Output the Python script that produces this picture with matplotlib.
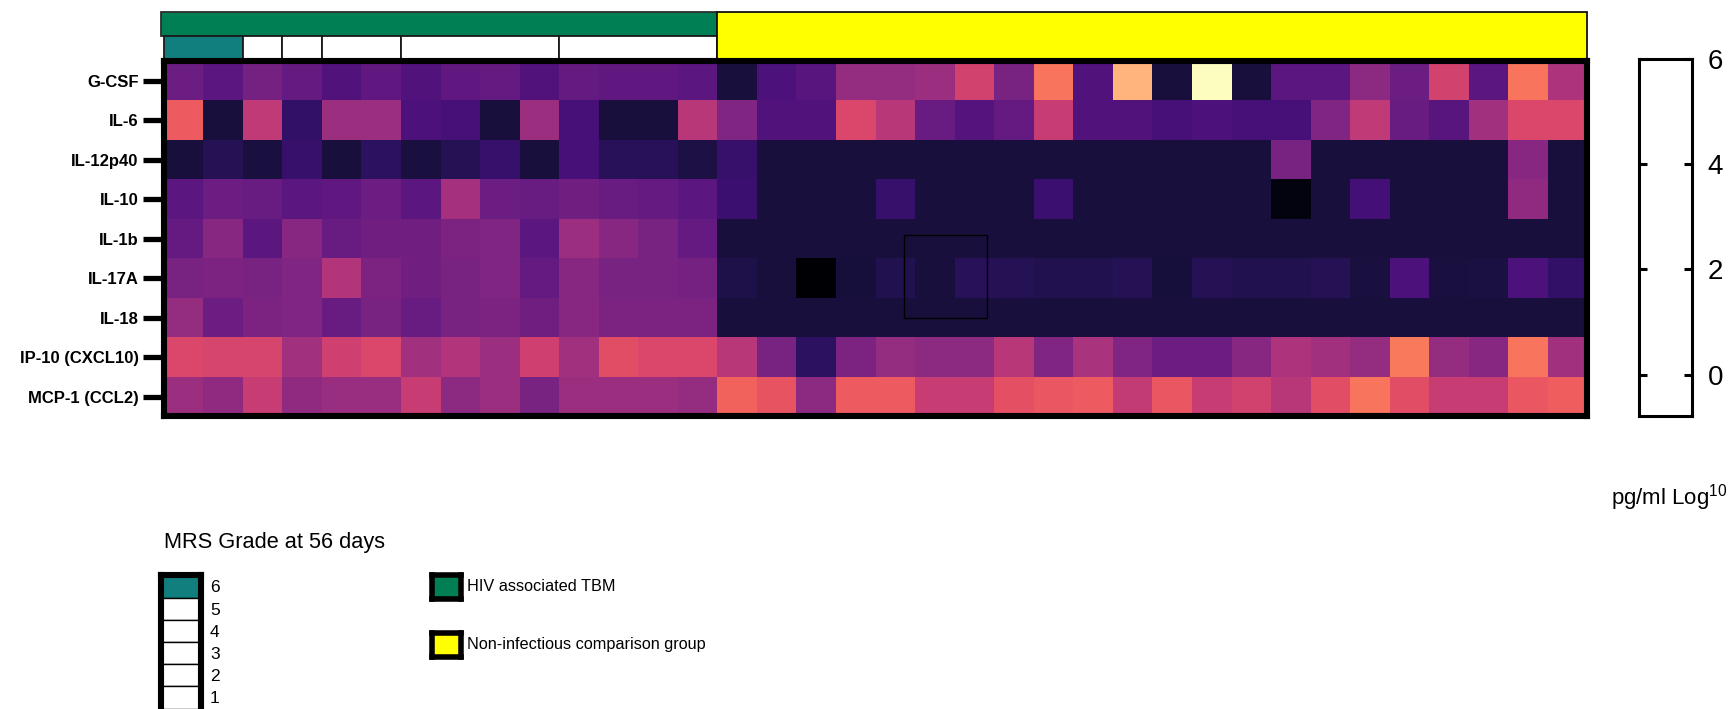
import matplotlib
matplotlib.use("Agg")
import matplotlib.pyplot as plt
from matplotlib.patches import Rectangle
import numpy as np

plt.rcParams['font.family'] = ['Liberation Sans', 'DejaVu Sans']
plt.rcParams['mathtext.fontset'] = 'custom'
plt.rcParams['mathtext.rm'] = 'Liberation Sans'
plt.rcParams['mathtext.it'] = 'Liberation Sans:italic'
plt.rcParams['mathtext.bf'] = 'Liberation Sans:bold'

# ---- data (log10 pg/ml) ----
cytokines = ["G-CSF", "IL-6", "IL-12p40", "IL-10", "IL-1b", "IL-17A",
             "IL-18", "IP-10 (CXCL10)", "MCP-1 (CCL2)"]

# HIV associated TBM patients (14), ordered by MRS grade at 56 days
hiv_tbm = [
    [1.92, 1.68, 2.04, 1.80, 1.50, 1.74, 1.50, 1.74, 1.80, 1.50, 1.80, 1.74, 1.74, 1.68],
    [3.90, 0.66, 3.12, 1.08, 2.64, 2.64, 1.44, 1.38, 0.66, 2.64, 1.38, 0.66, 0.66, 3.00],
    [0.66, 0.90, 0.70, 1.14, 0.66, 1.02, 0.70, 0.90, 1.14, 0.66, 1.38, 0.96, 0.96, 0.74],
    [1.68, 1.92, 1.86, 1.68, 1.74, 1.92, 1.68, 2.76, 1.92, 1.86, 1.98, 1.86, 1.80, 1.68],
    [1.80, 2.34, 1.68, 2.34, 1.86, 1.98, 1.98, 2.16, 2.22, 1.68, 2.64, 2.34, 2.10, 1.80],
    [2.10, 2.16, 2.10, 2.22, 2.94, 2.16, 1.98, 2.10, 2.22, 1.80, 2.34, 2.10, 2.10, 2.04],
    [2.52, 1.92, 2.16, 2.22, 1.86, 2.10, 1.86, 2.10, 2.16, 1.98, 2.34, 2.16, 2.16, 2.16],
    [3.54, 3.48, 3.48, 2.70, 3.36, 3.54, 2.70, 2.94, 2.64, 3.36, 2.70, 3.66, 3.54, 3.54],
    [2.64, 2.46, 3.24, 2.46, 2.58, 2.58, 3.24, 2.40, 2.64, 2.10, 2.64, 2.64, 2.64, 2.52],
]

# Non-infectious comparison group (22)
comparison = [
    [0.66, 1.44, 1.62, 2.52, 2.52, 2.64, 3.42, 2.10, 4.26, 1.50, 5.04, 0.66, 6.00, 0.66, 1.68, 1.68, 2.40, 1.92, 3.42, 1.68, 4.26, 2.88],
    [2.22, 1.50, 1.50, 3.54, 3.00, 1.86, 1.56, 1.80, 3.24, 1.50, 1.50, 1.38, 1.44, 1.38, 1.38, 2.22, 3.12, 1.86, 1.62, 2.70, 3.54, 3.54],
    [1.14, 0.66, 0.66, 0.66, 0.66, 0.66, 0.66, 0.66, 0.66, 0.66, 0.66, 0.66, 0.66, 0.66, 2.10, 0.66, 0.66, 0.66, 0.66, 0.66, 2.34, 0.66],
    [1.20, 0.66, 0.66, 0.66, 1.14, 0.66, 0.66, 0.66, 1.20, 0.66, 0.66, 0.66, 0.66, 0.66, 0.18, 0.66, 1.32, 0.66, 0.66, 0.66, 2.46, 0.66],
    [0.66, 0.66, 0.66, 0.66, 0.66, 0.66, 0.66, 0.66, 0.66, 0.66, 0.66, 0.66, 0.66, 0.66, 0.66, 0.66, 0.66, 0.66, 0.66, 0.66, 0.66, 0.66],
    [0.78, 0.66, 0.00, 0.64, 0.84, 0.66, 0.96, 0.90, 0.84, 0.84, 0.90, 0.64, 0.90, 0.84, 0.84, 0.90, 0.68, 1.44, 0.68, 0.72, 1.44, 1.08],
    [0.66, 0.66, 0.66, 0.66, 0.66, 0.66, 0.66, 0.66, 0.66, 0.66, 0.66, 0.66, 0.66, 0.66, 0.66, 0.66, 0.66, 0.66, 0.66, 0.66, 0.66, 0.66],
    [3.00, 2.10, 1.02, 2.16, 2.52, 2.40, 2.40, 3.00, 2.22, 2.82, 2.22, 1.92, 1.92, 2.34, 2.88, 2.70, 2.52, 4.32, 2.52, 2.34, 4.26, 2.70],
    [4.02, 3.78, 2.40, 3.90, 3.90, 3.24, 3.24, 3.72, 3.84, 3.90, 3.18, 3.84, 3.24, 3.42, 3.00, 3.66, 4.26, 3.66, 3.24, 3.24, 3.84, 3.96],
]

mrs_grades = [6, 5, 4, 3, 2, 1]
mrs_counts = [2, 1, 1, 2, 4, 4]          # HIV-TBM patients per grade
group_names = ["HIV associated TBM", "Non-infectious comparison group"]
scale_ticks = [0, 2, 4, 6]

# ---- styling ----
GREEN = "#007F55"
YELLOW = "#FFFF00"
TEAL = "#127F7F"

W, H = 1733, 709


def box(left, top, right, bottom):
    """Axes rectangle from pixel edges (origin top-left)."""
    return [left / W, 1 - bottom / H, (right - left) / W, (bottom - top) / H]


values = np.hstack([np.array(hiv_tbm), np.array(comparison)])
n_rows, n_cols = values.shape
n_hiv = len(hiv_tbm[0])
n_cmp = len(comparison[0])

fig = plt.figure(figsize=(W / 100, H / 100), dpi=100)

# group / MRS annotation strip above the heatmap
ann = fig.add_axes(box(163.7, 12, 1587.5, 60.8))
ann.set_xlim(0, n_cols)
ann.set_ylim(2, 0)
ann.axis("off")
ann.add_patch(Rectangle((-0.07, 0), n_hiv + 0.07, 1, fc=GREEN, ec="#2e2e2e",
                        lw=1.3, clip_on=False))
x0 = 0
for grade, count in zip(mrs_grades, mrs_counts):
    ann.add_patch(Rectangle((x0, 1), count, 1, fc=TEAL if grade == 6 else "white",
                            ec="#1a1a1a", lw=1.3, clip_on=False))
    x0 += count
ann.add_patch(Rectangle((n_hiv, 0), n_cmp, 2, fc=YELLOW, ec="#111111",
                        lw=1.3, clip_on=False))

# heatmap
ax = fig.add_axes(box(163.7, 60.8, 1587.5, 416.3))
ax.pcolormesh(np.arange(n_cols + 1), np.arange(n_rows + 1), values,
              cmap="magma", vmin=0, vmax=6)
ax.set_xlim(0, n_cols)
ax.set_ylim(n_rows, 0)
ax.set_xticks([])
ax.set_yticks(np.arange(n_rows) + 0.5)
ax.set_yticklabels(cytokines, fontweight="bold", fontsize=12)
ax.tick_params(axis="y", length=15, width=3.8, pad=3, color="black")
for sp in ax.spines.values():
    sp.set_linewidth(4.4)
    sp.set_color("black")
# outline box drawn over the comparison block
ax.add_patch(Rectangle((18.73, 4.42), 2.09, 2.10, fill=False, ec="black", lw=1.0))

# value scale box
cax = fig.add_axes(box(1638.7, 58.7, 1692.5, 416))
cax.set_facecolor("white")
cax.set_ylim(-0.78, 6)
cax.set_xticks([])
cax.set_yticks(scale_ticks)
cax.set_yticklabels([str(t) for t in scale_ticks])
cax.tick_params(axis="y", direction="in", left=True, right=True,
                labelleft=False, labelright=True, length=5.8, width=2.2,
                labelsize=20, pad=11)
for sp in cax.spines.values():
    sp.set_linewidth(2.2)
fig.text(1611 / W, 1 - 498 / H, r"pg/ml $\mathregular{Log^{10}}$",
         fontsize=16, ha="left", va="center")

# MRS grade legend
fig.text(163.6 / W, 1 - 542.6 / H, "MRS Grade at 56 days", fontsize=15.7,
         ha="left", va="center")
lax = fig.add_axes(box(161.3, 575.3, 201.0, 716.5))
lax.set_xlim(0, 1)
lax.set_ylim(6.36, 0)
for i, grade in enumerate(mrs_grades):
    lax.add_patch(Rectangle((0, i), 1, 1, fc=TEAL if grade == 6 else "white",
                            ec="black", lw=1.0))
lax.set_xticks([])
lax.set_yticks(np.arange(len(mrs_grades)) + 0.5)
lax.set_yticklabels([str(g) for g in mrs_grades], fontsize=12.5)
lax.tick_params(axis="y", left=False, right=False, labelleft=False,
                labelright=True, pad=3)
for sp in lax.spines.values():
    sp.set_linewidth(4.4)

# group legend
for (top, bottom), color, name, ty in zip([(574.7, 599.3), (632.7, 657.3)],
                                          [GREEN, YELLOW], group_names,
                                          [586.5, 644.5]):
    sw = fig.add_axes(box(431.7, top, 461.3, bottom))
    sw.set_facecolor(color)
    sw.set_xticks([])
    sw.set_yticks([])
    for sp in sw.spines.values():
        sp.set_linewidth(4.0)
    fig.text(467.5 / W, 1 - ty / H, name, fontsize=11.7, ha="left", va="center")

fig.savefig("out.png", dpi=100)
